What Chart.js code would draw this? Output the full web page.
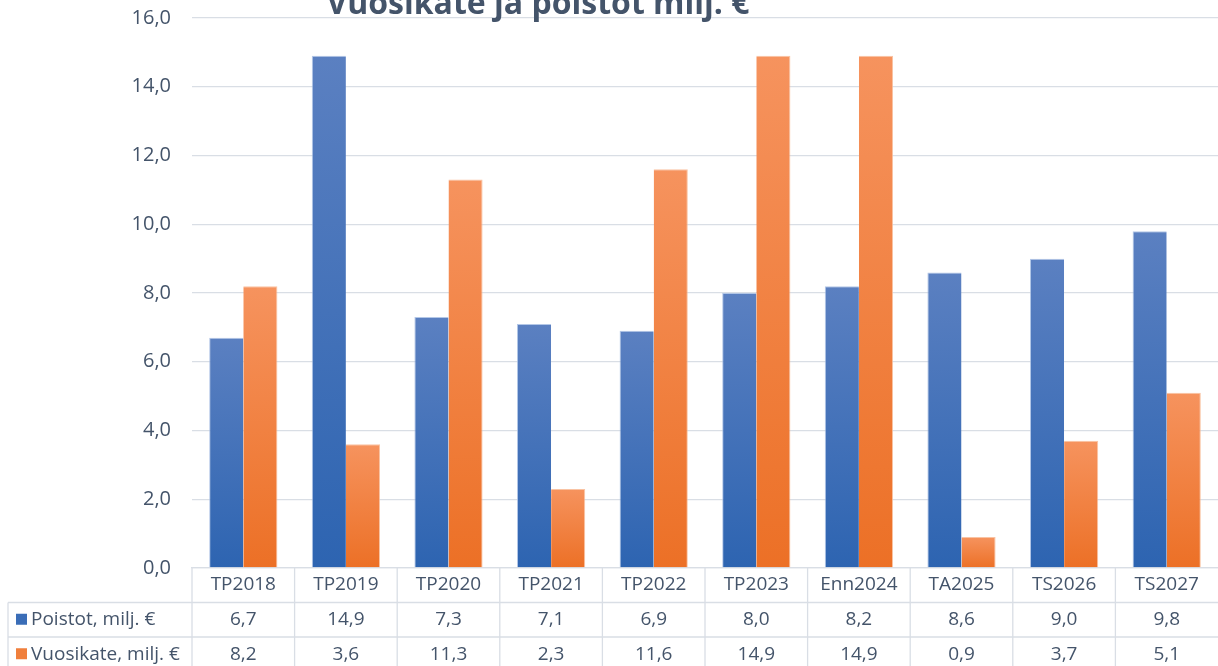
<!DOCTYPE html>
<html>
<head>
<meta charset="utf-8">
<script src="https://cdn.jsdelivr.net/npm/chart.js@4/dist/chart.umd.min.js"></script>
<style>
  html, body { margin: 0; padding: 0; background: #fff; }
  #wrap { width: 1218px; height: 666px; position: relative; }
</style>
</head>
<body>
<div id="wrap"><canvas id="myChart"></canvas></div>
<script>
const labels = ['TP2018', 'TP2019', 'TP2020', 'TP2021', 'TP2022', 'TP2023', 'Enn2024', 'TA2025', 'TS2026', 'TS2027'];
const poistot = [6.7, 14.9, 7.3, 7.1, 6.9, 8.0, 8.2, 8.6, 9.0, 9.8];
const vuosikate = [8.2, 3.6, 11.3, 2.3, 11.6, 14.9, 14.9, 0.9, 3.7, 5.1];
const seriesNames = ['Poistot, milj. €', 'Vuosikate, milj. €'];
const titleText = 'Vuosikate ja poistot milj. €';

const textColor = '#44546a';
const gridColor = '#d9dee5';
const font = 'Open Sans';

const fmt = v => v.toFixed(1).replace('.', ',');

// gradient per bar, light at top, darker at base
function barGradient(top, bottom) {
    return (c) => {
        const chart = c.chart;
        const area = chart.chartArea;
        if (!area || c.type !== 'data') return bottom;
        const y = chart.scales.y;
        const yTop = y.getPixelForValue(c.raw);
        const yBase = y.getPixelForValue(0);
        if (yBase - yTop < 1) return bottom;
        const g = chart.ctx.createLinearGradient(0, yTop, 0, yBase);
        g.addColorStop(0, top);
        g.addColorStop(1, bottom);
        return g;
    };
}

// draws the data table under the plot + the clipped title
const tablePlugin = {
    id: 'table',
    afterDraw(chart) {
        const { ctx, chartArea, scales } = chart;
        const x = scales.x;
        const step = x.getPixelForTick(1) - x.getPixelForTick(0);
        const right = chartArea.right;
        const top = chartArea.bottom;
        const rowH = 34.5;
        const tableLeft = 8;
        ctx.save();
        ctx.strokeStyle = gridColor;
        ctx.lineWidth = 1.3;
        // horizontal lines
        ctx.beginPath();
        for (let r = 1; r <= 3; r++) {
            const yy = top + rowH * r;
            ctx.moveTo(tableLeft, yy);
            ctx.lineTo(right, yy);
        }
        // vertical lines
        ctx.moveTo(tableLeft, top + rowH);
        ctx.lineTo(tableLeft, chart.height);
        for (let i = 0; i < labels.length; i++) {
            const xx = x.getPixelForTick(i) - step / 2;
            ctx.moveTo(xx, top);
            ctx.lineTo(xx, chart.height);
        }
        ctx.stroke();

        ctx.font = '19px "' + font + '"';
        ctx.fillStyle = textColor;
        ctx.textBaseline = 'middle';
        const rows = [poistot, vuosikate];
        chart.data.datasets.forEach((ds, r) => {
            const cy = top + rowH * (r + 1.5);
            ctx.textAlign = 'center';
            rows[r].forEach((v, i) => {
                ctx.fillText(fmt(v), x.getPixelForTick(i), cy);
            });
            // legend key
            ctx.fillStyle = r === 0 ? '#3a6db7' : '#f07f3c';
            ctx.fillRect(16, cy - 6, 11, 11);
            ctx.fillStyle = textColor;
            ctx.textAlign = 'left';
            ctx.fillText(seriesNames[r], 31, cy);
        });

        // title (top is cut off in the reference)
        ctx.font = 'bold 32px "' + font + '"';
        ctx.textAlign = 'center';
        ctx.textBaseline = 'alphabetic';
        ctx.fillText(titleText, 538, 14);
        ctx.restore();
    }
};

new Chart(document.getElementById('myChart'), {
    type: 'bar',
    data: {
        labels: labels,
        datasets: [
            {
                label: seriesNames[0],
                data: poistot,
                backgroundColor: barGradient('#5b80c1', '#2d64b1'),
                borderColor: 'rgba(160,185,225,0.8)',
                borderWidth: { top: 1, left: 1, right: 0, bottom: 0 },
                borderSkipped: false
            },
            {
                label: seriesNames[1],
                data: vuosikate,
                backgroundColor: barGradient('#f6935e', '#ec7026'),
                borderColor: 'rgba(248,180,140,0.8)',
                borderWidth: { top: 1, right: 1, left: 0, bottom: 0 },
                borderSkipped: false
            }
        ]
    },
    plugins: [tablePlugin],
    options: {
        responsive: true,
        maintainAspectRatio: false,
        animation: false,
        categoryPercentage: 0.665,
        barPercentage: 1,
        layout: { padding: { top: 18, right: 0, left: 0, bottom: 0 } },
        plugins: {
            legend: { display: false },
            title: { display: false },
            tooltip: { enabled: false }
        },
        scales: {
            x: {
                grid: { display: false, drawTicks: false },
                border: { display: true, color: gridColor, width: 1.3 },
                ticks: {
                    color: textColor,
                    font: { family: font, size: 19 },
                    padding: 5,
                    maxRotation: 0
                },
                afterFit: (s) => { s.height = 98; s.paddingLeft = 0; s.paddingRight = 0; }
            },
            y: {
                min: 0,
                max: 16,
                grid: { color: gridColor, lineWidth: 1.3, drawTicks: false },
                border: { display: false },
                ticks: {
                    stepSize: 2,
                    color: textColor,
                    font: { family: font, size: 20 },
                    padding: 21,
                    callback: (v) => fmt(v)
                },
                // plot top should sit right at the top padding
                afterFit: (s) => { s.width = 192; s.paddingTop = 0; s.paddingBottom = 0; }
            }
        }
    }
});
</script>
</body>
</html>
